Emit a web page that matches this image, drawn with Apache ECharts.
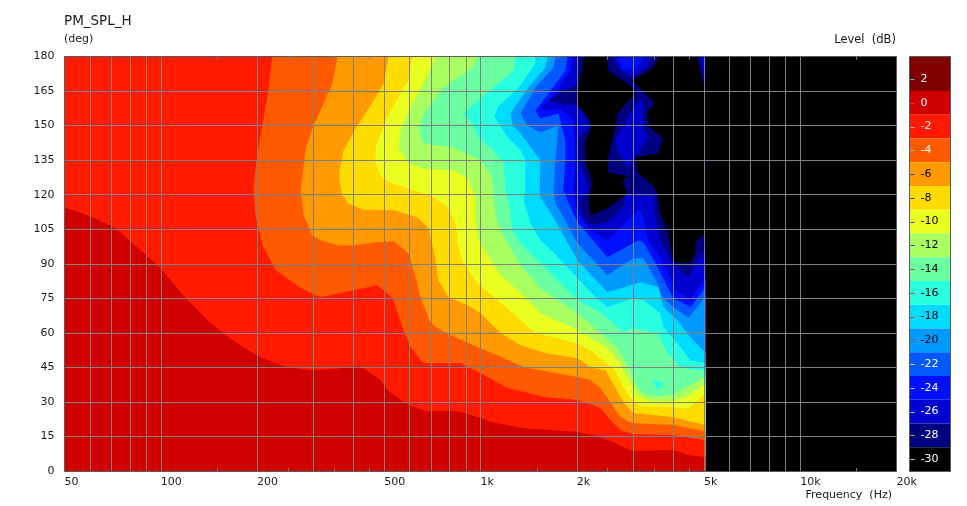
<!DOCTYPE html>
<html><head><meta charset="utf-8">
<style>html,body{margin:0;padding:0;background:#fff}#c{width:967px;height:506px}</style>
<script src="https://cdn.jsdelivr.net/npm/echarts@6/dist/echarts.min.js"></script>
</head><body><div id="c"></div>
<script>
// All contour vertices are [frequency Hz, angle deg]
const FMIN=50, FMAX=20000, FEDGE=5050;
const majorFreqs=[50,60,70,80,90,100,200,300,400,500,600,700,800,900,1000,2000,3000,4000,5000,6000,7000,8000,9000,10000,20000];
const minorFreqs=[150,250,350,450,1500,2500,3500,4500,15000];
const labelFreqs=[50,100,200,500,1000,2000,5000,10000,20000];
const legendLabels=[2,0,-2,-4,-6,-8,-10,-12,-14,-16,-18,-20,-22,-24,-26,-28,-30];
const legendColors=['#800000','#d00000','#ff1a00','#ff5a00','#ff9a00','#ffdc00','#eaff20','#aaff60','#6affa0','#2affe0','#00dcff','#009aff','#005aff','#0010ff','#0000d0','#000080','#000000'];
const legendTickColors=['#3cc8c8','#e03030','#c8a8a8','#30e0b0','#2040e0','#2040e0','#2040e0','#2040e0','#c04020','#c04020','#c04020','#c04020','#d0e060','#c0c0c0','#d0d020','#c8b820','#d0d0d0'];
const legendTextColors=['#fff','#fff','#fff','#fff','#000','#000','#000','#000','#000','#000','#000','#000','#fff','#fff','#fff','#fff','#fff'];

const c0=[[50,114.5],[60.4,110.6],[72.3,105.4],[86.6,95.8],[100,88],[119.7,75],[143,64.2],[171,56],[201,49.9],[246,45.1],[300,43.8],[340,44.2],[422,45.5],[487,39.5],[512,35.1],[562,30.8],[604,28.2],[683,26],[854,26],[1000,23],[1075,21.3],[1365,18.6],[2010,16.9],[2258,15.6],[2604,12.6],[2840,10],[3007,8.7],[4010,9.1],[4466,6.9],[5050,6.1]];
const c1=[[223,180],[217,165],[208,150],[201,138.4],[197,129.2],[195,121.9],[198,111],[208,98],[229,87.2],[274,79.4],[316,75.5],[401,78.5],[476,80.7],[531,75],[574,61.2],[604,53.8],[663,46.8],[866,46.8],[1000,42.5],[1215,36],[1587,32.1],[2010,30.8],[2258,28.6],[2371,27.3],[2548,22.1],[2738,17.8],[3007,16],[3980,15.6],[5050,13.4]];
const c2=[[357,180],[345,168.7],[316,156.6],[300,150],[284,140],[278,129.2],[274,121.9],[280,111],[298,102.4],[316,100.2],[357,98],[401,98],[470,99.3],[537,99.8],[595,94.5],[627,84.1],[649,75.5],[698,64.2],[778,59.9],[1000,53.3],[1130,50.3],[1365,45.1],[2010,40.8],[2207,39.5],[2371,36],[2548,29.9],[2738,23.4],[2985,20.8],[3980,20],[5050,17.3]];
const c3=[[516,180],[498,168.3],[453,158.7],[407,148.8],[373,139.2],[362,130.5],[362,126.2],[370,119.7],[386,116.2],[428,113.6],[537,113.2],[635,110.2],[688,105.4],[721,92.8],[739,82.8],[794,75.5],[912,72],[1000,68.5],[1155,59.9],[1334,54.6],[1587,51.2],[2010,49],[2207,45.1],[2459,43.8],[2638,36.4],[2798,29.9],[3007,25.2],[3980,23.4],[5050,20]];
const c4=[[613,180],[595,169.6],[562,164],[505,152.2],[470,140.5],[470,133.6],[487,128.4],[505,126.2],[591,122.7],[698,119.7],[789,114.5],[836,107.6],[848,98.9],[885,90.2],[981,81.5],[1155,73.3],[1334,65.5],[1485,59.9],[2010,55.5],[2207,52.5],[2638,43.8],[2798,36.4],[2985,30.8],[3162,28.2],[3980,27.8],[4466,27.3],[4870,31.7],[5050,33.8]];
const c5=[[721,180],[688,173],[604,157.9],[562,147.9],[554,140],[595,133.6],[663,131.4],[825,130.5],[912,127],[945,121.9],[965,117.5],[965,108.9],[985,100.2],[1060,92.8],[1155,85],[1334,77.2],[1540,68.5],[2010,61.2],[2495,53.3],[2738,46.8],[2798,43.8],[2943,38.2],[3094,33],[3398,30.4],[3980,30.4],[4400,32.1],[4870,36.4],[5050,38.2]];
const c6=[[981,180],[945,175.2],[767,166.5],[663,155.3],[642,147.9],[663,142.3],[825,140.5],[1000,134.9],[1075,129.2],[1098,121.9],[1098,117.5],[1130,107.6],[1215,98.9],[1334,89.3],[1540,79.4],[2010,68.5],[2371,59.9],[2680,53.3],[2900,45.1],[3007,40.3],[3094,36.4],[3210,33.8],[3530,32.5],[3980,33],[4531,37.3],[5050,40.8]];
const c7=[[1287,180],[1269,173.9],[1000,161.8],[885,155.3],[951,150],[985,144.9],[1098,139.2],[1180,133.6],[1198,121.9],[1241,113.2],[1259,104.5],[1334,98.9],[1540,90.2],[2010,74.2],[2371,69],[2798,60.3],[3007,62],[3576,59.9],[3840,51.2],[4217,45.1],[5050,43.4]];
const c8=[[1485,180],[1485,177],[1334,167.4],[1130,157.9],[1107,153.5],[1215,144.9],[1334,139.2],[1382,134.9],[1382,121.9],[1365,117.5],[1433,107.6],[1540,100.2],[1691,95],[2010,83.7],[2258,76.3],[2495,71.1],[3007,75],[3235,74.2],[3652,68.5],[3730,62.5],[4127,55.5],[4531,48.1],[5050,46.8]];
const c9=[[1620,180],[1597,175.2],[1412,166.5],[1334,161.8],[1241,155.3],[1259,150],[1334,146.6],[1485,137.9],[1540,134.9],[1530,121.9],[1540,118.8],[1691,110.2],[2010,91.5],[2495,77.6],[3162,82],[3600,79.8],[3730,71.1],[4127,65.5],[4531,58.1],[5050,51.2]];
const c10=[[1716,180],[1691,175.2],[1485,166.5],[1334,155.3],[1403,150],[1540,147],[1753,150],[1716,134.9],[1691,121.9],[1716,116.2],[1817,110.2],[2010,98.9],[2495,85],[3007,92.4],[3235,92.4],[3576,81.5],[3708,75.5],[4010,71.1],[4466,66.4],[4870,72.9],[5050,76.3]];
const c11=[[1870,180],[1843,173.9],[1631,163.9],[1486,156.6],[1540,153.1],[1753,155.3],[1843,143.6],[1843,134.9],[1817,121.9],[1870,117.5],[2010,108],[2495,92.8],[3117,100.2],[3254,98.9],[3576,88.5],[4010,75],[4531,71.1],[4975,78.5],[5050,82.8]];
const c12=[[1939,180],[1911,173.9],[1716,163.9],[1540,157.4],[1597,156.6],[1778,157.4],[1953,152.2],[1967,143.6],[1981,134.9],[1953,121.9],[1981,117.5],[2010,111.9],[2207,104.5],[2495,100.2],[3117,113.2],[3210,111],[3340,100.2],[3652,92.4],[3840,87.2],[4063,78.5],[4531,74.2],[4975,82.8],[5050,87.2]];
const c13=[[2025,180],[2025,173.9],[1981,167.4],[1778,164.4],[1631,160.9],[1778,159.6],[2010,158.7],[2128,153.5],[2170,149.2],[2010,143.6],[2025,134.9],[2109,129.2],[2170,121.9],[2025,116.2],[2128,108.9],[2207,106.7],[2495,108],[2798,114.5],[2840,119.7],[3050,120.6],[3500,119.7],[3500,111.9],[3652,100.2],[4010,90.2],[4466,84.1],[4760,91.5],[5050,95.8]];
const c14=[[2109,180],[2054,171.7],[2010,163],[2010,158.7],[2207,152.2],[2223,148.8],[2128,143.6],[2128,134.9],[2239,124.9],[2175,117.5],[2207,111],[2495,114],[2880,120.6],[2778,126.2],[2900,127.9],[2513,129.7],[2495,134.9],[2638,149.2],[2680,155.3],[3050,163.9],[2985,166.5],[2513,173.9],[2477,180],[3626,180],[3450,174.8],[2985,169.6],[3500,160],[3314,155.3],[3373,149.2],[3730,144.4],[3576,137.9],[3050,136.2],[3094,129.7],[3500,123.2],[3576,119.7],[3652,111.9],[3866,103.2],[4010,90.6],[4531,90.2],[4698,95],[4698,99.3],[5050,103.2]];
// closed islands
const islandCyan=[[3447,39.5],[3730,38.6],[3600,34.3]];
const islandTopMid=[[2604,180],[2698,174.8],[2985,170.9],[3314,175.2],[3398,180]];
const islandTopCore=[[2680,180],[2778,173.9],[3094,175.2],[3235,180]];
const islandMid=[[3162,161.8],[3254,158.7],[3210,155.7],[3235,149.2],[3340,144.9],[3235,141.4],[2880,131.4],[2680,139.2],[2638,143.6],[2778,149.2],[2943,155.3],[3050,158.7]];
const islandEdgeNavy=[[4760,180],[5050,180],[5050,166],[4870,173]];
const islandEdgeBlue=[[4870,180],[5050,180],[5050,170.4]];
const islandEdgeLow=[[4975,136],[5050,136],[5050,129]];

const closeCurve=c=>c.concat([[FEDGE,0],[FMIN,0],[FMIN,180]]);
const shapes=[
 [closeCurve(c14),'#000080'],[islandEdgeNavy,'#000080'],[islandEdgeLow,'#000080'],
 [closeCurve(c13),'#0000d0'],[islandTopMid,'#0000d0'],[islandMid,'#0000d0'],[islandEdgeBlue,'#0000d0'],
 [closeCurve(c12),'#0010ff'],[islandTopCore,'#0010ff'],
 [closeCurve(c11),'#005aff'],[closeCurve(c10),'#009aff'],[closeCurve(c9),'#00dcff'],
 [closeCurve(c8),'#2affe0'],[closeCurve(c7),'#6affa0'],[islandCyan,'#2affe0'],
 [closeCurve(c6),'#aaff60'],[closeCurve(c5),'#eaff20'],[closeCurve(c4),'#ffdc00'],
 [closeCurve(c3),'#ff9a00'],[closeCurve(c2),'#ff5a00'],[closeCurve(c1),'#ff1a00'],[closeCurve(c0),'#d00000']
];
const legendEdges=[3.9,1,-1,-3,-5,-7,-9,-11,-13,-15,-17,-19,-21,-23,-25,-27,-29,-31];

const lg=Math.log10, FONT='"DejaVu Sans"', TXT='#1a1a1a', GRID='#808080', LINE='#5c5c5c';
const rect={left:64.5,top:56.5,width:832,height:414.5};
const xBase={type:'value',min:lg(FMIN),max:lg(FMAX),gridIndex:0,z:10,axisLabel:{show:false},splitLine:{show:false},axisTick:{show:false},axisLine:{show:true,onZero:false,lineStyle:{color:LINE,width:1}}};
const minorTick=p=>Object.assign({},xBase,{position:p,axisTick:{show:true,inside:true,length:3,lineStyle:{color:GRID},customValues:minorFreqs.map(lg)}});
const tStyle=s=>({fontFamily:FONT,fontSize:s,fontWeight:'normal',color:TXT});
const option={
 animation:false,backgroundColor:'#fff',
 title:[
  {text:'PM_SPL_H',left:64,top:14,padding:0,textStyle:tStyle(13.5)},
  {text:'(deg)',left:64,top:34,padding:0,textStyle:tStyle(11)},
  {text:'Level  (dB)',right:71,top:34,padding:0,textStyle:tStyle(11.5)},
  {text:'Frequency  (Hz)',right:75,top:490,padding:0,textStyle:tStyle(11)}
 ],
 grid:[
  Object.assign({show:true,backgroundColor:'#000',borderWidth:0},rect),
  {left:909.5,top:56.5,width:41,height:414.5,show:false}
 ],
 xAxis:[
  Object.assign({},xBase,{position:'bottom',
   axisTick:{show:false,customValues:majorFreqs.map(lg)},
   splitLine:{show:true,lineStyle:{color:GRID,width:1},customValues:majorFreqs.map(lg)},
   axisLabel:{show:true,customValues:labelFreqs.map(lg),align:'left',margin:6,fontFamily:FONT,fontSize:11,color:TXT,hideOverlap:false,
    formatter:v=>{const f=Math.round(Math.pow(10,v));return f>=1000?(f/1000)+'k':String(f);}}}),
  minorTick('top'),minorTick('bottom'),
  {type:'value',gridIndex:1,min:0,max:1,position:'bottom',z:10,axisLabel:{show:false},axisTick:{show:false},splitLine:{show:false},axisLine:{show:true,onZero:false,lineStyle:{color:LINE}}},
  {type:'value',gridIndex:1,min:0,max:1,position:'top',z:10,axisLabel:{show:false},axisTick:{show:false},splitLine:{show:false},axisLine:{show:true,onZero:false,lineStyle:{color:LINE}}}
 ],
 yAxis:[
  {type:'value',gridIndex:0,min:0,max:180,interval:15,position:'left',z:10,
   axisLine:{show:true,onZero:false,lineStyle:{color:LINE}},axisTick:{show:false},
   splitLine:{show:true,lineStyle:{color:GRID,width:1}},
   axisLabel:{margin:10,fontFamily:FONT,fontSize:11,color:TXT}},
  {type:'value',gridIndex:0,min:0,max:180,interval:15,position:'right',z:10,
   axisLine:{show:true,onZero:false,lineStyle:{color:LINE}},axisTick:{show:false},splitLine:{show:false},axisLabel:{show:false}},
  {type:'value',gridIndex:1,min:-31,max:3.9,position:'left',z:10,
   axisLine:{show:true,onZero:false,lineStyle:{color:LINE}},axisTick:{show:false,customValues:legendLabels},splitLine:{show:false},
   axisLabel:{inside:true,margin:11,align:'left',customValues:legendLabels,hideOverlap:false,fontFamily:FONT,fontSize:11,
    color:v=>legendTextColors[legendLabels.indexOf(Number(v))]}},
  {type:'value',gridIndex:1,min:-31,max:3.9,position:'right',z:10,
   axisLine:{show:true,onZero:false,lineStyle:{color:LINE}},axisTick:{show:false},splitLine:{show:false},axisLabel:{show:false}}
 ],
 series:[
  {type:'custom',xAxisIndex:0,yAxisIndex:0,silent:true,z:2,clip:true,
   data:shapes.map((s,i)=>[lg(FMIN),0,i]),encode:{x:0,y:1},
   renderItem:(p,api)=>{const s=shapes[api.value(2)];
    return {type:'polygon',shape:{points:s[0].map(q=>api.coord([lg(q[0]),q[1]]))},style:{fill:s[1],stroke:null}};}},
  {type:'custom',xAxisIndex:3,yAxisIndex:2,silent:true,z:2,
   data:legendLabels.map((l,i)=>[0,legendEdges[i+1],i]),encode:{x:0,y:1},
   renderItem:(p,api)=>{const i=api.value(2);
    const a=api.coord([0,legendEdges[i]]),b=api.coord([1,legendEdges[i+1]]),t=api.coord([0,legendLabels[i]]);
    return {type:'group',children:[
     {type:'rect',shape:{x:a[0],y:a[1],width:b[0]-a[0],height:b[1]-a[1]},style:{fill:legendColors[i]}},
     {type:'line',shape:{x1:a[0]+1,y1:Math.round(t[1])+.5,x2:a[0]+5,y2:Math.round(t[1])+.5},style:{stroke:legendTickColors[i],lineWidth:1}}
    ]};}}
 ]
};
echarts.init(document.getElementById('c'),null,{renderer:'canvas'}).setOption(option);
</script></body></html>
